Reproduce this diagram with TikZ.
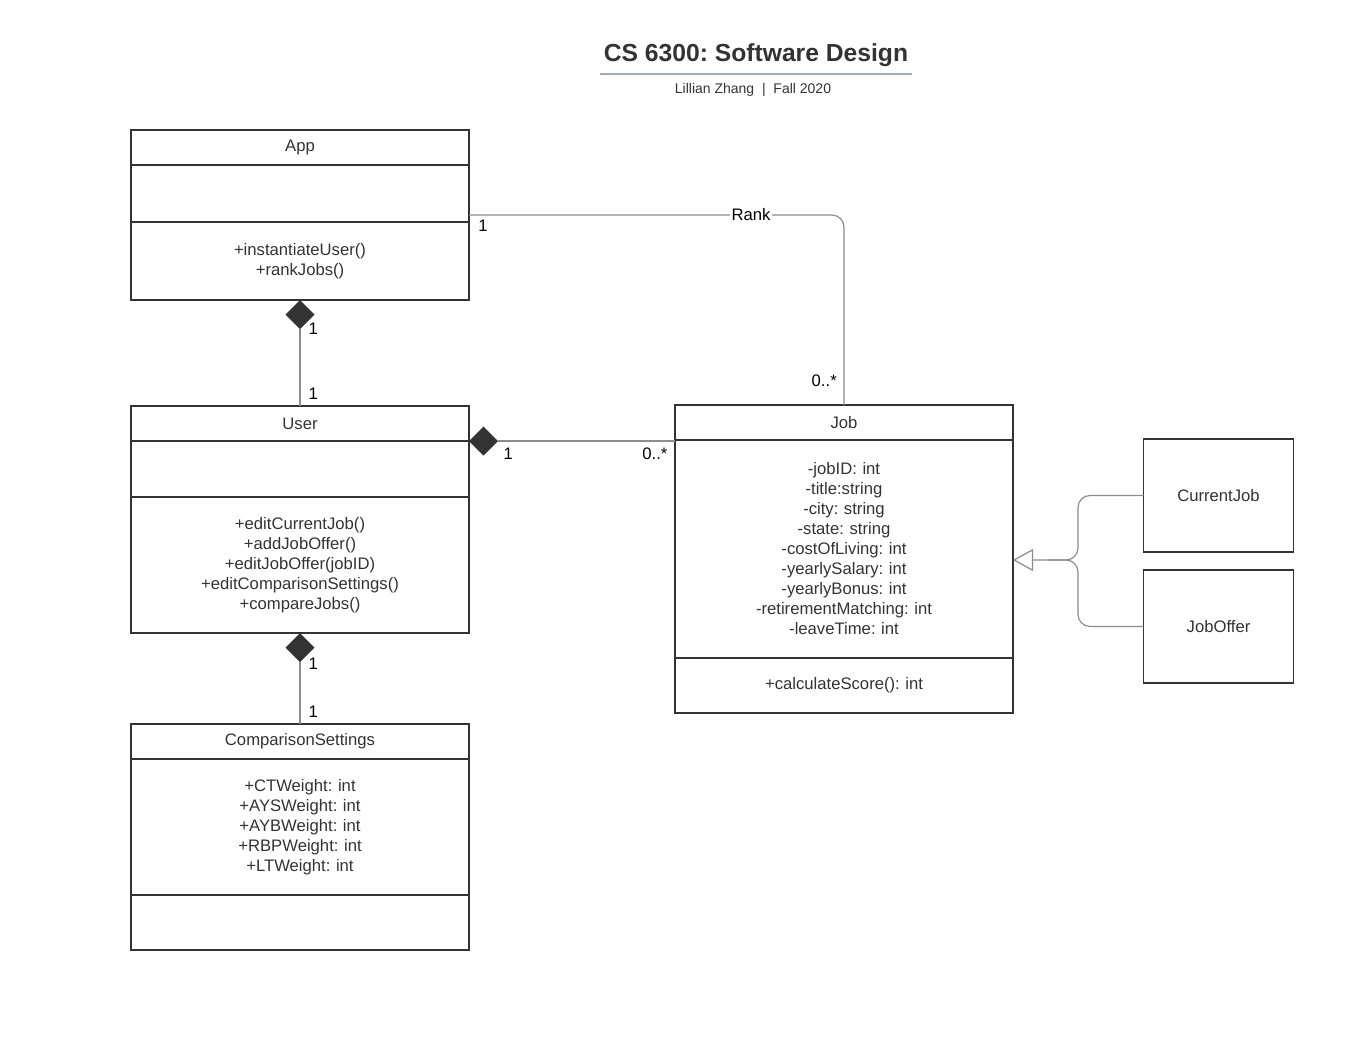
\documentclass[tikz,border=0pt]{standalone}
\usepackage{fontspec}
\setmainfont{Liberation Sans}
\usetikzlibrary{positioning}
\usetikzlibrary{shapes.geometric, arrows.meta}
\definecolor{boxGray}{HTML}{333333}
\definecolor{lineGray}{HTML}{8C8C8C}
\definecolor{textGray}{HTML}{333333}
\definecolor{ruleGray}{HTML}{A3AAB2}
\newcommand{\pxu}{0.75pt}
\newcommand{\boxfont}{\fontsize{12.5}{15}\selectfont}
\frenchspacing
\tikzset{
    classPart/.style={rectangle, draw=boxGray, line width=1.3pt, minimum width=338*\pxu, text width=330*\pxu, align=center, inner sep=0pt, outer sep=0pt, font=\boxfont, text=textGray},
    classHead/.style={classPart, minimum height=35*\pxu},
    subBox/.style={rectangle, draw=boxGray, line width=1.3pt, minimum width=150*\pxu, minimum height=113*\pxu, align=center, inner sep=0pt, outer sep=0pt, font=\boxfont, text=textGray},
    compDiamond/.style={diamond, fill=boxGray, draw=none, minimum width=29*\pxu, minimum height=29*\pxu, inner sep=0pt, outer sep=0pt},
    assocLine/.style={draw=lineGray, line width=0.9pt},
    multLabel/.style={font=\boxfont, text=black, inner sep=0pt}
}

\begin{document}
\begin{tikzpicture}[x=0.75pt, y=-0.75pt]
  \useasboundingbox (0,0) rectangle (1356,1047);

  % title
  \node (title) [font=\fontsize{18.5}{22}\selectfont\bfseries, text=textGray] at (756,55.5) {CS 6300: Software Design};
  \coordinate (ruleL) at (600,74);
  \coordinate (ruleR) at (912,74);
  \draw[ruleGray, line width=1.4pt] (ruleL) -- (ruleR);
  \node (author) [font=\fontsize{10.5}{12}\selectfont, text=textGray] at (753,89.5) {Lillian Zhang~~|~~Fall 2020};

  % App
  \node (appH) [classHead] at (300,147.5) {App};
  \node (appA) [classPart, minimum height=57*\pxu, below=0pt of appH] {};
  \node (appM) [classPart, minimum height=78*\pxu, below=0pt of appA] {+instantiateUser()\\+rankJobs()};

  % User
  \node (userH) [classHead] at (300,423.5) {User};
  \node (userA) [classPart, minimum height=56*\pxu, below=0pt of userH] {};
  \node (userM) [classPart, minimum height=136*\pxu, below=0pt of userA] {+editCurrentJob()\\+addJobOffer()\\+editJobOffer(jobID)\\+editComparisonSettings()\\+compareJobs()};

  % ComparisonSettings
  \node (csH) [classHead] at (300,741.5) {ComparisonSettings};
  \node (csA) [classPart, minimum height=136*\pxu, below=0pt of csH] {+CTWeight: int\\+AYSWeight: int\\+AYBWeight: int\\+RBPWeight: int\\+LTWeight: int};
  \node (csM) [classPart, minimum height=55*\pxu, below=0pt of csA] {};

  % Job
  \node (jobH) [classHead] at (844,422.5) {Job};
  \node (jobA) [classPart, minimum height=218*\pxu, below=0pt of jobH] {-jobID: int\\-title:string\\-city: string\\-state: string\\-costOfLiving: int\\-yearlySalary: int\\-yearlyBonus: int\\-retirementMatching: int\\-leaveTime: int\\[2pt]};
  \node (jobM) [classPart, minimum height=55*\pxu, below=0pt of jobA] {+calculateScore(): int};

  % subclasses
  \node (cur) [subBox] at (1218.5,495.5) {CurrentJob};
  \node (off) [subBox, below=18*\pxu of cur] {JobOffer};

  % compositions
  \node (dAppUser) [compDiamond, anchor=north] at (appM.south) {};
  \draw[assocLine] (dAppUser.south) -- (userH.north)
    node[multLabel, at start, anchor=west, xshift=8*\pxu] {1}
    node[multLabel, at end, anchor=south west, xshift=8*\pxu, yshift=6*\pxu] {1};

  \node (dUserCs) [compDiamond, anchor=north] at (userM.south) {};
  \draw[assocLine] (dUserCs.south) -- (csH.north)
    node[multLabel, at start, anchor=west, xshift=8*\pxu, yshift=-2*\pxu] {1}
    node[multLabel, at end, anchor=south west, xshift=8*\pxu, yshift=6*\pxu] {1};

  \node (dUserJob) [compDiamond, anchor=west] at (userH.south east) {};
  \draw[assocLine] (dUserJob.east) -- (dUserJob.east -| jobH.west)
    node[multLabel, at start, anchor=north west, xshift=5*\pxu, yshift=-6*\pxu] {1}
    node[multLabel, at end, anchor=north east, xshift=-7*\pxu, yshift=-6*\pxu] {0..*};

  % rank association
  \coordinate (rankStart) at (appA.east |- 0,215);
  \draw[assocLine, rounded corners=12*\pxu] (rankStart) -| (jobH.north)
    node[multLabel, pos=0.376, fill=white, inner sep=1pt] {Rank};
  \node[multLabel, anchor=north west, xshift=9*\pxu, yshift=-5*\pxu] at (rankStart) {1};
  \node[multLabel, anchor=south east, xshift=-7*\pxu, yshift=18*\pxu] at (jobH.north) {0..*};

  % generalization
  \coordinate (genJoin) at (1078,560);
  \draw[assocLine, rounded corners=12*\pxu, -{Triangle[open, length=20*\pxu, width=22*\pxu]}] (cur.west) -| (genJoin) -- (genJoin -| jobA.east);
  \draw[assocLine, rounded corners=12*\pxu] (off.west) -| (genJoin) -- ++(-30,0);
\end{tikzpicture}
\end{document}
